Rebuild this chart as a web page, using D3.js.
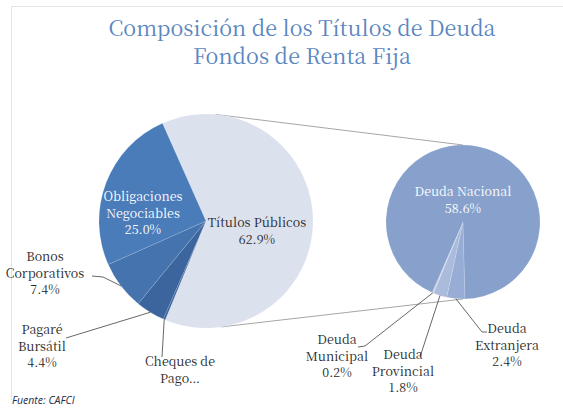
<!DOCTYPE html>
<html>
<head>
<meta charset="UTF-8">
<title>Composición de los Títulos de Deuda</title>
<style>
	body { margin: 0; background: white; }
	.lbl { font-size: 12.5px; fill: #262626; }
	.title { font-size: 21.5px; fill: #5a86bf; }
	.inside { fill: white; }
	.source { font-style: italic; font-size: 10.5px; fill: #1f2d4a; }
	.leader { stroke: #404040; stroke-width: 0.8; fill: none; }
	.connector { stroke: #a6a6a6; stroke-width: 1; fill: none; }
</style>
</head>
<body>
<div id="chart"></div>
<script src="https://cdn.jsdelivr.net/npm/d3@7"></script>
<script>

// Main pie (in clockwise order starting from Títulos Públicos)
let mainCategories = ["Títulos Públicos", "Cheques de Pago", "Pagaré Bursátil", "Bonos Corporativos", "Obligaciones Negociables"];
let mainValues = [62.9, 0.3, 4.4, 7.4, 25.0];
let mainColors = ["#dce1ee", "#35609a", "#3c659d", "#4573ad", "#4a7cba"];

// Secondary pie, breakdown of Títulos Públicos
let subCategories = ["Deuda Extranjera", "Deuda Provincial", "Deuda Municipal", "Deuda Nacional"];
let subValues = [2.4, 1.8, 0.2, 58.6];
let subColors = ["#98add5", "#aabbdb", "#c6d1e7", "#87a1cc"];

let titleLines = ["Composición de los Títulos de Deuda", "Fondos de Renta Fija"];

let width = 563, height = 408;
let deg = Math.PI / 180;
let serifFont = '"Noto Serif CJK SC", "Liberation Serif", serif';

let svg = d3.select("#chart").append("svg")
	.attr("width", width)
	.attr("height", height);

// chart frame (top and left edges only show)
svg.append("path")
	.attr("d", "M11.5,400 V6.5 H563")
	.attr("stroke", "#e3e3e3")
	.attr("fill", "none");

svg.append("text")
	.attr("class", "title")
	.style("font-family", serifFont)
	.attr("text-anchor", "middle")
	.selectAll("tspan")
	.data(titleLines)
	.enter()
	.append("tspan")
	.attr("x", 302)
	.attr("y", (d, i) => 36 + i * 27.5)
	.text(d => d);

// ---- left pie
let main = { cx: 206, cy: 221, r: 107 };
let mainStart = -24 * deg;
let mainPie = d3.pie().sort(null).startAngle(mainStart).endAngle(mainStart + 2 * Math.PI);
let mainArcs = mainPie(mainValues);
let mainArc = d3.arc().innerRadius(0).outerRadius(main.r);

// ---- right pie
let sub = { cx: 463, cy: 222, r: 77 };
let subStart = 178.5 * deg;
let subPie = d3.pie().sort(null).startAngle(subStart).endAngle(subStart + 2 * Math.PI);
let subArcs = subPie(subValues);
let subArc = d3.arc().innerRadius(0).outerRadius(sub.r);

function onEdge(p, angle, r) {
	return [p.cx + r * Math.sin(angle), p.cy - r * Math.cos(angle)];
}

// connector lines between the pies
let a1 = onEdge(main, 5 * deg, main.r), b1 = onEdge(sub, 0, sub.r);
let a2 = onEdge(main, 172 * deg, main.r), b2 = onEdge(sub, Math.PI, sub.r);
svg.append("g").selectAll("line")
	.data([[a1, b1], [a2, b2]])
	.enter()
	.append("line")
	.attr("class", "connector")
	.attr("x1", d => d[0][0]).attr("y1", d => d[0][1])
	.attr("x2", d => d[1][0]).attr("y2", d => d[1][1]);

svg.append("g")
	.attr("transform", `translate(${main.cx},${main.cy})`)
	.selectAll("path")
	.data(mainArcs)
	.enter()
	.append("path")
	.attr("d", mainArc)
	.attr("fill", (d, i) => mainColors[i])
	.attr("stroke", "rgba(255,255,255,0.25)")
	.attr("stroke-width", 0.5);

svg.append("g")
	.attr("transform", `translate(${sub.cx},${sub.cy})`)
	.selectAll("path")
	.data(subArcs)
	.enter()
	.append("path")
	.attr("d", subArc)
	.attr("fill", (d, i) => subColors[i])
	.attr("stroke", "rgba(255,255,255,0.25)")
	.attr("stroke-width", 0.5);

let fmt = d3.format(".1f");
function midAngle(d) { return (d.startAngle + d.endAngle) / 2; }

// label layout: text block position and leader elbow
let mainLabels = [
	{ lines: ["Títulos Públicos"], x: 257, y: 227 },
	{ lines: ["Cheques de", "Pago…"], x: 180, y: 366, noPct: true, leader: [[162, 357]] },
	{ lines: ["Pagaré", "Bursátil"], x: 42, y: 334, leader: [[66, 338]] },
	{ lines: ["Bonos", "Corporativos"], x: 45, y: 261, leader: [[92, 276], [103, 277]] },
	{ lines: ["Obligaciones", "Negociables"], x: 143, y: 201, cls: "inside" }
];
let subLabels = [
	{ lines: ["Deuda", "Extranjera"], x: 507, y: 333, leader: [[487, 332], [482, 332]] },
	{ lines: ["Deuda", "Provincial"], x: 403, y: 359, leader: [[420, 357]] },
	{ lines: ["Deuda", "Municipal"], x: 337, y: 344, leader: [[358, 347], [365, 346]] },
	{ lines: ["Deuda Nacional"], x: 463, y: 196, cls: "inside" }
];

function drawLabels(labels, arcs, values, p) {
	labels.forEach((lab, i) => {
		let lines = lab.lines.slice();
		if (!lab.noPct) lines.push(fmt(values[i]) + "%");
		if (lab.leader) {
			let end = onEdge(p, midAngle(arcs[i]), p.r);
			let pts = lab.leader.concat([end]);
			svg.append("path")
				.attr("class", "leader")
				.attr("d", d3.line()(pts));
		}
		let t = svg.append("text")
			.attr("class", "lbl " + (lab.cls || ""))
			.style("font-family", serifFont)
			.attr("text-anchor", "middle");
		lines.forEach((s, j) => {
			t.append("tspan")
				.attr("x", lab.x)
				.attr("y", lab.y + j * 16.5)
				.text(s);
		});
	});
}

drawLabels(mainLabels, mainArcs, mainValues, main);
drawLabels(subLabels, subArcs, subValues, sub);

svg.append("text")
	.attr("class", "source")
	.style("font-family", '"Open Sans", sans-serif')
	.attr("x", 12)
	.attr("y", 404)
	.text("Fuente: CAFCI");

</script>
</body>
</html>
